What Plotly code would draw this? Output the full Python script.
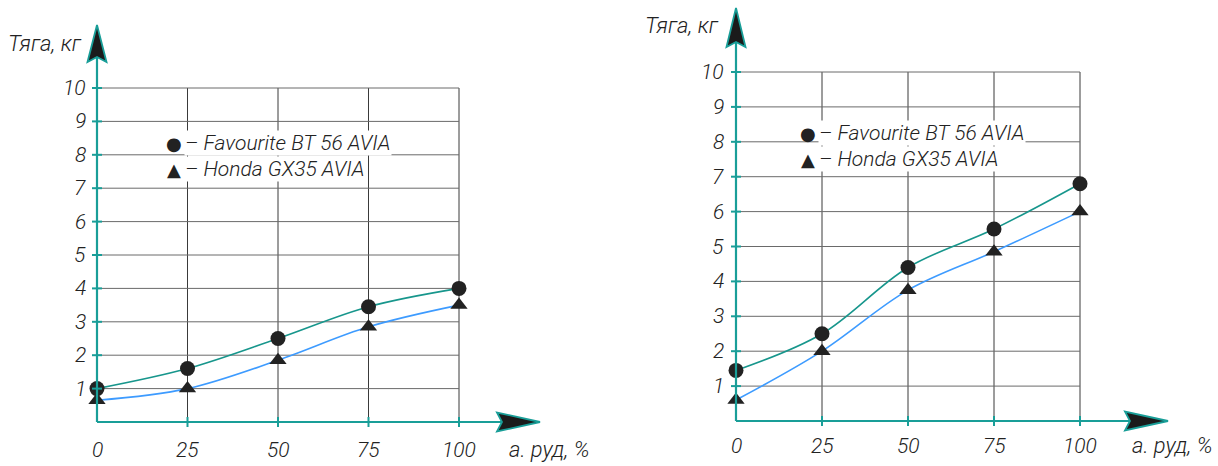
import plotly.graph_objects as go

# ---------------- data ----------------
throttle = [0, 25, 50, 75, 100]
fav_left = [1.0, 1.6, 2.5, 3.45, 4.0]
honda_left = [0.65, 1.0, 1.85, 2.85, 3.5]
fav_right = [1.45, 2.5, 4.4, 5.5, 6.8]
honda_right = [0.6, 2.0, 3.75, 4.85, 6.0]
x_ticks = [0, 25, 50, 75, 100]
y_ticks = [1, 2, 3, 4, 5, 6, 7, 8, 9, 10]
series_names = ["Favourite BT 56 AVIA", "Honda GX35 AVIA"]
y_title = "Тяга, кг"
x_title = "а. руд, %"

# ---------------- style ----------------
W, H = 1218, 466
TEAL = "#199e98"
FAV_LINE = "#17968c"
HONDA_LINE = "#3d9bff"
MARK = "#222222"
GRID_V = "#3a3a3a"
GRID_H = "#6a6a6a"
FONT = "Roboto, sans-serif"
TXT = "#222222"

panels = [
    dict(dom=(0, 609), px0=97, px100=459, py0=422, py10=88,
         fav=fav_left, honda=honda_left, ylab_right=88, xlab_y=450,
         title_xy=(45, 43), xt_xy=(549, 449), yarrow_tip=25, yarrow_len=37,
         xarrow_tip=540, xarrow_len=43, leg_x=174, leg_y=(143, 169), leg_tx=184),
    dict(dom=(609, 1218), px0=736, px100=1080, py0=421, py10=72,
         fav=fav_right, honda=honda_right, ylab_right=726, xlab_y=446,
         title_xy=(682, 25), xt_xy=(1172, 445), yarrow_tip=8, yarrow_len=39,
         xarrow_tip=1168, xarrow_len=43, leg_x=808, leg_y=(133, 159), leg_tx=818),
]

fig = go.Figure()
shapes = []
annotations = []
layout_axes = {}

for i, p in enumerate(panels):
    sfx = "" if i == 0 else str(i + 1)
    xr, yr = "x" + sfx, "y" + sfx
    sx = (p["px100"] - p["px0"]) / 100.0
    sy = (p["py0"] - p["py10"]) / 10.0

    def xd(px, p=p, sx=sx):
        return (px - p["px0"]) / sx

    def yd(py, p=p, sy=sy):
        return (p["py0"] - py) / sy

    layout_axes["xaxis" + sfx] = dict(domain=[p["dom"][0] / W, p["dom"][1] / W],
                                      range=[xd(p["dom"][0]), xd(p["dom"][1])],
                                      visible=False, anchor=yr, fixedrange=True)
    layout_axes["yaxis" + sfx] = dict(domain=[0, 1], range=[yd(H), yd(0)],
                                      visible=False, anchor=xr, fixedrange=True)

    xmax, ymax = max(x_ticks), max(y_ticks)
    # grid
    for v in x_ticks[1:]:
        shapes.append(dict(type="line", xref=xr, yref=yr, x0=v, x1=v, y0=0, y1=ymax,
                           line=dict(color=GRID_V, width=1), layer="below"))
    for v in y_ticks:
        shapes.append(dict(type="line", xref=xr, yref=yr, x0=0, x1=xmax, y0=v, y1=v,
                           line=dict(color=GRID_H, width=1), layer="below"))
    # axes lines
    shapes.append(dict(type="line", xref=xr, yref=yr, x0=0, x1=0, y0=0,
                       y1=yd(p["yarrow_tip"] + 10), line=dict(color=TEAL, width=2.2)))
    shapes.append(dict(type="line", xref=xr, yref=yr, x0=0, x1=xd(p["xarrow_tip"] - 10),
                       y0=0, y1=0, line=dict(color=TEAL, width=2.2)))
    # crossing ticks
    for v in x_ticks[1:]:
        shapes.append(dict(type="line", xref=xr, yref=yr, x0=v, x1=v,
                           y0=yd(p["py0"] + 5), y1=yd(p["py0"] - 5),
                           line=dict(color=TEAL, width=2)))
    for v in y_ticks:
        shapes.append(dict(type="line", xref=xr, yref=yr, x0=xd(p["px0"] - 5),
                           x1=xd(p["px0"] + 5), y0=v, y1=v,
                           line=dict(color=TEAL, width=2)))
    # y arrow head
    tip = p["yarrow_tip"]
    base = tip + p["yarrow_len"]
    ax = p["px0"]
    path = "M {} {} L {} {} L {} {} L {} {} Z".format(
        xd(ax), yd(tip), xd(ax - 9.5), yd(base), xd(ax), yd(base - 5), xd(ax + 9.5), yd(base))
    shapes.append(dict(type="path", xref=xr, yref=yr, path=path, fillcolor="#1b1b1b",
                       line=dict(color=TEAL, width=1.8)))
    # x arrow head
    tipx = p["xarrow_tip"]
    basex = tipx - p["xarrow_len"]
    ay = p["py0"]
    path = "M {} {} L {} {} L {} {} L {} {} Z".format(
        xd(tipx), yd(ay), xd(basex), yd(ay - 9.5), xd(basex + 5), yd(ay), xd(basex), yd(ay + 9.5))
    shapes.append(dict(type="path", xref=xr, yref=yr, path=path, fillcolor="#1b1b1b",
                       line=dict(color=TEAL, width=1.8)))

    # curves
    for vals, col in ((p["fav"], FAV_LINE), (p["honda"], HONDA_LINE)):
        fig.add_trace(go.Scatter(x=throttle, y=vals, mode="lines", xaxis=xr, yaxis=yr,
                                 line=dict(color=col, width=1.6, shape="spline", smoothing=1.0),
                                 showlegend=False, hoverinfo="skip"))
    fig.add_trace(go.Scatter(x=throttle, y=p["fav"], mode="markers", xaxis=xr, yaxis=yr,
                             marker=dict(symbol="circle", size=15, color=MARK),
                             cliponaxis=False, showlegend=False, name=series_names[0]))
    fig.add_trace(go.Scatter(x=throttle, y=p["honda"], mode="markers", xaxis=xr, yaxis=yr,
                             marker=dict(symbol="triangle-up", size=15, color=MARK),
                             cliponaxis=False, showlegend=False, name=series_names[1]))

    f = dict(family=FONT, size=21, color=TXT, style="italic", weight=300)
    ft = dict(family=FONT, size=22, color=TXT, style="italic", weight=300)
    fl = dict(family=FONT, size=21, color=TXT, style="italic", weight=300)
    # tick labels
    for v in y_ticks:
        annotations.append(dict(xref=xr, yref=yr, x=xd(p["ylab_right"]), y=v, text=str(v),
                                showarrow=False, xanchor="right", yanchor="middle", font=f))
    for v in x_ticks:
        annotations.append(dict(xref=xr, yref=yr, x=v, y=yd(p["xlab_y"]), text=str(v),
                                showarrow=False, xanchor="center", yanchor="middle", font=f))
    # titles
    annotations.append(dict(xref=xr, yref=yr, x=xd(p["title_xy"][0]), y=yd(p["title_xy"][1]),
                            text=y_title, showarrow=False, xanchor="center", yanchor="middle", font=ft))
    annotations.append(dict(xref=xr, yref=yr, x=xd(p["xt_xy"][0]), y=yd(p["xt_xy"][1]),
                            text=x_title, showarrow=False, xanchor="center", yanchor="middle", font=ft))
    # legend
    for k, (sym, name) in enumerate((("●", series_names[0]), ("▲", series_names[1]))):
        ly = p["leg_y"][k]
        annotations.append(dict(xref=xr, yref=yr, x=xd(p["leg_x"]), y=yd(ly), text=sym,
                                showarrow=False, xanchor="center", yanchor="middle",
                                font=dict(family="DejaVu Sans", size=18, color=MARK)))
        annotations.append(dict(xref=xr, yref=yr, x=xd(p["leg_tx"]), y=yd(ly), text="– " + name,
                                showarrow=False, xanchor="left", yanchor="middle", font=fl,
                                bgcolor="white", borderpad=0))

fig.update_layout(width=W, height=H, margin=dict(l=0, r=0, t=0, b=0),
                  paper_bgcolor="white", plot_bgcolor="white",
                  shapes=shapes, annotations=annotations, showlegend=False, **layout_axes)
fig.write_html("out.html", config={"displayModeBar": False},
               post_script="document.body.style.margin='0px';document.body.style.overflow='hidden';")
